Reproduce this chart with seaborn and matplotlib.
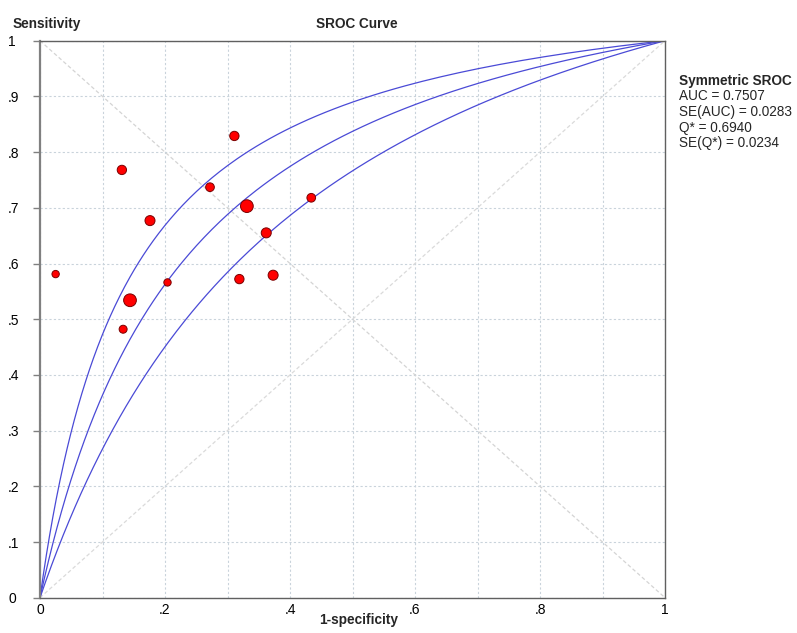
"""
SROC curve (symmetric, Moses-Littenberg) with the study points on top.
"""
import numpy as np
import pandas as pd
import matplotlib
matplotlib.use("Agg")
import matplotlib.pyplot as plt
import seaborn as sns

# Study estimates
fpr = [0.311, 0.131, 0.272, 0.434, 0.331, 0.176, 0.362, 0.025, 0.373, 0.319, 0.204, 0.144, 0.133]
sens = [0.829, 0.768, 0.737, 0.718, 0.703, 0.677, 0.655, 0.581, 0.579, 0.572, 0.566, 0.534, 0.482]
weight = [45, 45, 39, 39, 84, 52, 52, 28, 52, 45, 28, 84, 33]

# Model values (log DOR of the fitted curve and of the two bands)
Q_STAR = 0.6940
LOG_DOR = 2 * np.log(Q_STAR / (1 - Q_STAR))
LOG_DOR_BAND = 0.45

summary_lines = ["AUC = 0.7507", "SE(AUC) = 0.0283", "Q* = 0.6940", "SE(Q*) = 0.0234"]

x_ticks = [0, .1, .2, .3, .4, .5, .6, .7, .8, .9, 1]
x_labels = ["0", "", ".2", "", ".4", "", ".6", "", ".8", "", "1"]
y_ticks = [0, .1, .2, .3, .4, .5, .6, .7, .8, .9, 1]
y_labels = ["0", ".1", ".2", ".3", ".4", ".5", ".6", ".7", ".8", ".9", "1"]

CURVE = "#4a4ad6"
GRID = "#c9d3db"


def sroc(x, d):
    x = np.asarray(x)
    with np.errstate(divide="ignore"):
        return np.where(x > 0, 1 / (1 + np.exp(-d) * (1 - x) / np.where(x > 0, x, 1)), 0.0)


sns.set_style("white")
plt.rcParams["font.family"] = ["Liberation Sans", "DejaVu Sans"]

fig = plt.figure(figsize=(7.97, 6.33), dpi=100)
W, H = 797, 633
ax = fig.add_axes([40 / W, (H - 597.7) / H, 625 / W, 557 / H])

# curves
xs = np.concatenate([[0.0], np.geomspace(1e-4, 1, 600)])
curves = pd.concat([
    pd.DataFrame({"fpr": xs, "tpr": sroc(xs, LOG_DOR + k * LOG_DOR_BAND), "curve": name})
    for k, name in [(1, "upper"), (0, "mid"), (-1, "lower")]
])

# diagonals
ax.plot([0, 1], [1, 0], color="#d4d4d4", lw=0.9, ls=(0, (3, 2)), zorder=1)
ax.plot([0, 1], [0, 1], color="#dadada", lw=0.9, ls=(0, (3, 2)), zorder=1)

sns.lineplot(data=curves, x="fpr", y="tpr", hue="curve",
             palette={"upper": CURVE, "mid": CURVE, "lower": CURVE},
             estimator=None, sort=True, lw=0.9, legend=False, ax=ax, zorder=2)

pts = pd.DataFrame({"fpr": fpr, "sens": sens, "weight": weight})
sns.scatterplot(data=pts, x="fpr", y="sens", size="weight", sizes=(28, 84),
                color="#ff0000", edgecolor="#7a0000", linewidth=0.7,
                legend=False, ax=ax, zorder=3)

ax.set_xlim(0, 1)
ax.set_ylim(0, 1)
ax.set_xticks(x_ticks)
ax.set_xticklabels(x_labels)
ax.set_yticks(y_ticks)
ax.set_yticklabels(y_labels, ha="left")
ax.tick_params(axis="x", length=0, pad=4, labelsize=10, colors="black")
ax.tick_params(axis="y", length=5, width=1, color="#808080", pad=18, labelsize=10,
               labelcolor="black", left=True)
ax.grid(True, color=GRID, lw=0.8, ls=(0, (2, 2)))
ax.set_axisbelow(True)
ax.set_xlabel("")
ax.set_ylabel("")

for side in ["top", "right", "bottom"]:
    ax.spines[side].set_color("#606060")
    ax.spines[side].set_linewidth(1.0)
ax.spines["left"].set_color("#808080")
ax.spines["left"].set_linewidth(1.6)

fig.text(13 / W, 1 - 28 / H, "Sensitivity", fontsize=9.8, fontweight="bold", va="baseline")
fig.text(357 / W, 1 - 28 / H, "SROC Curve", fontsize=9.8, fontweight="bold", va="baseline", ha="center")
fig.text(359 / W, 1 - 624 / H, "1-specificity", fontsize=9.8, fontweight="bold", va="baseline", ha="center")

fig.text(679 / W, 1 - 85 / H, "Symmetric SROC", fontsize=9.8, fontweight="bold", va="baseline")
for i, line in enumerate(summary_lines):
    fig.text(679 / W, 1 - (100 + 15.8 * i) / H, line, fontsize=9.8, va="baseline")

fig.savefig("out.png", dpi=100)
